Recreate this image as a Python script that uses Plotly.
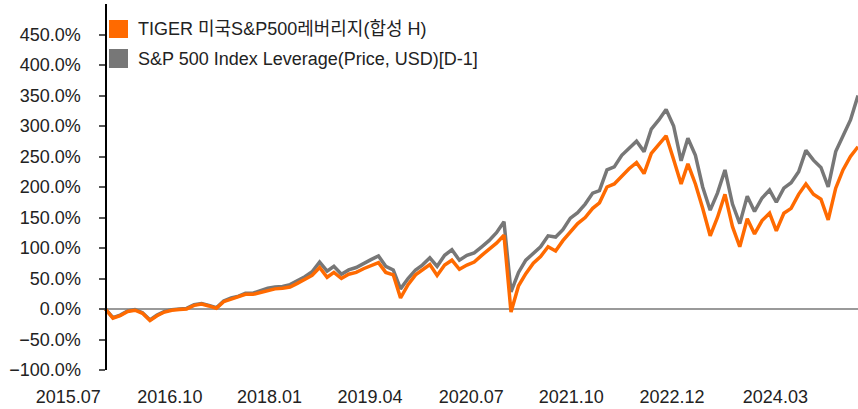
import pandas as pd
import plotly.graph_objects as go

# ---- data (cumulative return, %) : monthly samples ----
START_DATE = "2015-08-15"

tiger = [0, -15, -11, -4, -2, -7, -19, -11, -5, -2, -1, 0, 6, 8, 5, 1, 12, 16, 19, 24,
         24, 27, 31, 33, 34, 36, 42, 48, 55, 68, 52, 60, 50, 57, 60, 66, 71, 76, 60, 56,
         18, 40, 56, 64, 73, 55, 72, 80, 65, 72, 77, 88, 97, 108, 121, -5, 38, 58, 75, 86,
         102, 95, 112, 127, 140, 150, 165, 174, 200, 205, 218, 230, 240, 222, 255, 269, 284, 245, 205, 238,
         205, 165, 120, 150, 188, 135, 102, 148, 123, 145, 157, 128, 157, 165, 188, 205, 188, 180, 146, 198,
         228, 250, 266]

index_lev = [0, -14, -10, -3, -1, -6, -18, -10, -4, -1, 0, 1, 7, 9, 6, 2, 13, 18, 21, 26,
             26, 30, 34, 36, 37, 40, 46, 53, 61, 77, 62, 70, 57, 64, 68, 75, 81, 87, 70, 64,
             33, 50, 64, 72, 84, 70, 88, 97, 80, 88, 92, 102, 112, 125, 143, 28, 60, 80, 92, 102,
             120, 118, 130, 149, 158, 172, 190, 194, 228, 233, 252, 263, 275, 258, 295, 310, 327, 300, 243, 280,
             252, 200, 162, 190, 228, 172, 140, 185, 160, 182, 195, 175, 198, 207, 225, 260, 244, 232, 200, 258,
             282, 310, 350]

series_names = ["TIGER 미국S&P500레버리지(합성 H)", "S&P 500 Index Leverage(Price, USD)[D-1]"]
series_colors = ["#FF6A00", "#777777"]

x_tick_labels = ["2015.07", "2016.10", "2018.01", "2019.04", "2020.07", "2021.10", "2022.12", "2024.03"]
x_tick_dates = ["2015-03-15", "2016-05-07", "2017-06-22", "2018-08-11",
                "2019-10-03", "2020-11-19", "2022-01-08", "2023-03-11"]
y_tick_values = [-100, -50, 0, 50, 100, 150, 200, 250, 300, 350, 400, 450]
y_tick_labels = [("\u2212" if v < 0 else "") + f"{abs(v):.1f}%" for v in y_tick_values]

dates = pd.date_range(START_DATE, periods=len(tiger), freq=pd.DateOffset(months=1))

FONT = "Liberation Sans, Arial, Noto Sans CJK KR, sans-serif"
W, H = 858, 409
ML, MR, MT, MB = 0, 0, 4, 39
AXIS_PX = 105.5

fig = go.Figure()
fig.add_trace(go.Scatter(x=dates, y=index_lev, name=series_names[1], mode="lines",
                         line=dict(color=series_colors[1], width=3.5), showlegend=False))
fig.add_trace(go.Scatter(x=dates, y=tiger, name=series_names[0], mode="lines",
                         line=dict(color=series_colors[0], width=3.5), showlegend=False))

# zero reference line from the value axis to the right edge
fig.add_shape(type="line", xref="x", yref="y", x0=dates[0], x1="2024-02-15", y0=0, y1=0,
              line=dict(color="#9a9a9a", width=2), layer="below")

# manual legend (square swatches)
plot_h = H - MT - MB
def py(p):
    return (H - MB - p) / plot_h

sw = [(20, 38), (49, 68)]
for (top, bot), name, col in zip(sw, series_names, series_colors):
    fig.add_shape(type="rect", xref="paper", yref="paper",
                  x0=109 / W, x1=128 / W, y0=py(bot), y1=py(top),
                  fillcolor=col, line=dict(width=0))
    fig.add_annotation(xref="paper", yref="paper", x=136 / W, y=py((top + bot) / 2),
                       text=name, showarrow=False, xanchor="left", yanchor="middle",
                       font=dict(family=FONT, size=18, color="#222222"))

fig.update_layout(
    template="none",
    width=W, height=H,
    margin=dict(l=ML, r=MR, t=MT, b=MB),
    paper_bgcolor="white", plot_bgcolor="white",
    font=dict(family=FONT, size=18, color="#222222"),
    showlegend=False,
    xaxis=dict(type="date", range=["2014-06-06", "2024-02-15"],
               tickvals=x_tick_dates, ticktext=x_tick_labels,
               showgrid=False, zeroline=False, showline=False, ticks="",
               automargin=False, ticklabelstandoff=14,
               tickfont=dict(family=FONT, size=18, color="#222222")),
    yaxis=dict(range=[-100, 500], tickvals=y_tick_values, ticktext=y_tick_labels,
               showgrid=False, zeroline=False, showline=True, linecolor="black", linewidth=2,
               ticks="outside", ticklen=6, tickcolor="#555555", tickwidth=1.5,
               anchor="free", position=AXIS_PX / W, automargin=False,
               ticklabelstandoff=14,
               tickfont=dict(family=FONT, size=18, color="#222222")),
)

fig.write_html("out.html", config={"displayModeBar": False},
               post_script="document.body.style.margin='0';")
